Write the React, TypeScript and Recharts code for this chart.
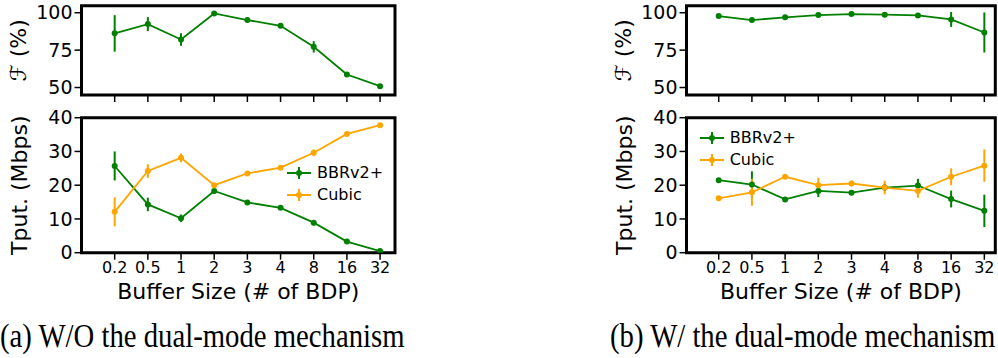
import React from "react";
import { LineChart, Line, XAxis, YAxis, ErrorBar, ReferenceArea, Legend } from "recharts";

// buffer sizes, in # of BDP
const bufferLabels = ["0.2", "0.5", "1", "2", "3", "4", "8", "16", "32"];

// (a) without the dual-mode mechanism
const fairWithout = [86.2, 92.4, 82.1, 99.5, 95.1, 91.3, 77.2, 58.7, 50.9];
const fairWithoutErr = [12.2, 4.7, 4.2, 0.6, 1.0, 1.5, 3.8, 0.6, 0.4];
const bbrWithout = [25.7, 14.3, 10.2, 18.3, 14.9, 13.3, 8.9, 3.3, 0.5];
const bbrWithoutErr = [4.3, 2.0, 1.1, 0.5, 0.5, 0.5, 0.8, 0.4, 0.3];
const cubicWithout = [12.1, 24.2, 28.1, 20.0, 23.5, 25.2, 29.6, 35.2, 37.8];
const cubicWithoutErr = [4.3, 2.0, 1.3, 0.5, 0.5, 0.6, 1.0, 0.5, 0.5];

// (b) with the dual-mode mechanism
const fairWith = [97.8, 95.1, 96.9, 98.4, 99.1, 98.7, 98.2, 95.5, 86.8];
const fairWithErr = [0.5, 1.5, 0.8, 0.5, 0.3, 0.3, 0.4, 5.0, 13.4];
const bbrWith = [21.5, 20.2, 15.8, 18.3, 17.8, 19.3, 19.9, 15.9, 12.4];
const bbrWithErr = [0.5, 3.9, 0.5, 1.8, 0.6, 1.0, 2.0, 2.5, 4.8];
const cubicWith = [16.1, 17.9, 22.5, 20.0, 20.5, 19.3, 18.3, 22.5, 25.8];
const cubicWithErr = [0.4, 4.0, 0.5, 2.2, 0.8, 2.0, 2.0, 2.5, 4.8];

const GREEN = "#008000";
const ORANGE = "#ffa500";
const tickIdx = bufferLabels.map((_, i) => i);

const makeRows = (f: number[], fe: number[], b: number[], be: number[], c: number[], ce: number[]) =>
    bufferLabels.map((label, i) => ({
        x: i, label,
        fair: f[i], fairErr: fe[i],
        bbr: b[i], bbrErr: be[i],
        cubic: c[i], cubicErr: ce[i],
    }));

const rowsA = makeRows(fairWithout, fairWithoutErr, bbrWithout, bbrWithoutErr, cubicWithout, cubicWithoutErr);
const rowsB = makeRows(fairWith, fairWithErr, bbrWith, bbrWithErr, cubicWith, cubicWithErr);

function VTitle(props: any) {
    const { viewBox, text, cx } = props;
    const y = viewBox ? viewBox.y + viewBox.height / 2 : 50;
    return (
        <text x={cx} y={y} transform={`rotate(-90 ${cx} ${y})`} textAnchor="middle"
            dominantBaseline="central" fontSize={22} fill="#000">
            {text}
        </text>
    );
}

function XTitle(props: any) {
    const { viewBox, text, dy } = props;
    const x = viewBox ? viewBox.x + viewBox.width / 2 : 200;
    const y = viewBox ? viewBox.y + dy : 290;
    return (
        <text x={x} y={y} textAnchor="middle" dominantBaseline="central" fontSize={22} fill="#000">
            {text}
        </text>
    );
}

function LegendBox(props: any) {
    const { payload } = props;
    return (
        <div style={{ fontSize: 16, lineHeight: "22px", color: "#000" }}>
            {(payload || []).map((p: any) => (
                <div key={p.value} style={{ display: "flex", alignItems: "center", height: 22 }}>
                    <svg width={24} height={16}>
                        <line x1={0} y1={8} x2={24} y2={8} stroke={p.color} strokeWidth={2} />
                        <line x1={12} y1={2} x2={12} y2={14} stroke={p.color} strokeWidth={2} />
                        <circle cx={12} cy={8} r={3} fill={p.color} />
                    </svg>
                    <span style={{ marginLeft: 6 }}>{p.value}</span>
                </div>
            ))}
        </div>
    );
}

const axisTick = { fill: "#000", fontSize: 19 };
const xTick = { fill: "#000", fontSize: 16 };
const tickLine = { stroke: "#000", strokeWidth: 1.5 };

function FairPanel({ data, width, xMin, xMax }: any) {
    return (
        <LineChart width={width} height={105} data={data}
            margin={{ top: 5.7, right: 3, left: 0, bottom: 0 }}>
            <XAxis dataKey="x" type="number" domain={[xMin, xMax]} ticks={tickIdx} allowDataOverflow
                axisLine={false} tickLine={tickLine} tickSize={7} tickFormatter={() => ""} height={10} />
            <YAxis type="number" domain={[45, 104.7]} ticks={[50, 75, 100]} allowDataOverflow width={81.5}
                axisLine={false} tickLine={tickLine} tickSize={7} tickMargin={2} tick={axisTick}
                label={<VTitle text="ℱ (%)" cx={19} />} />
            <ReferenceArea x1={xMin} x2={xMax} y1={45} y2={104.7} fill="none" stroke="#000" strokeWidth={3} />
            <Line dataKey="fair" stroke={GREEN} strokeWidth={1.8} isAnimationActive={false}
                dot={{ r: 3, fill: GREEN, stroke: GREEN, strokeWidth: 0 }} activeDot={false}>
                <ErrorBar dataKey="fairErr" direction="y" width={0} stroke={GREEN} strokeWidth={2} />
            </Line>
        </LineChart>
    );
}

function TputPanel({ data, width, xMin, xMax, legendLeft, legendTop }: any) {
    return (
        <LineChart width={width} height={210} data={data}
            margin={{ top: 17.7, right: 3, left: 0, bottom: 2.3 }}>
            <XAxis dataKey="x" type="number" domain={[xMin, xMax]} ticks={tickIdx} allowDataOverflow
                axisLine={false} tickLine={tickLine} tickSize={7} tickMargin={2} tick={xTick}
                tickFormatter={(v: number) => bufferLabels[v]} height={55}
                label={<XTitle text="Buffer Size (# of BDP)" dy={39} />} />
            <YAxis type="number" domain={[0, 40]} ticks={[0, 10, 20, 30, 40]} allowDataOverflow width={81.5}
                axisLine={false} tickLine={tickLine} tickSize={7} tickMargin={2} tick={axisTick}
                label={<VTitle text="Tput. (Mbps)" cx={20} />} />
            <ReferenceArea x1={xMin} x2={xMax} y1={0} y2={40} fill="none" stroke="#000" strokeWidth={3} />
            <Line dataKey="bbr" name="BBRv2+" stroke={GREEN} strokeWidth={1.8} isAnimationActive={false}
                dot={{ r: 3, fill: GREEN, stroke: GREEN, strokeWidth: 0 }} activeDot={false}>
                <ErrorBar dataKey="bbrErr" direction="y" width={0} stroke={GREEN} strokeWidth={2} />
            </Line>
            <Line dataKey="cubic" name="Cubic" stroke={ORANGE} strokeWidth={1.8} isAnimationActive={false}
                dot={{ r: 3, fill: ORANGE, stroke: ORANGE, strokeWidth: 0 }} activeDot={false}>
                <ErrorBar dataKey="cubicErr" direction="y" width={0} stroke={ORANGE} strokeWidth={2} />
            </Line>
            <Legend layout="vertical" align="center" verticalAlign="middle" content={<LegendBox />}
                wrapperStyle={{ left: legendLeft, top: legendTop, width: "auto", height: "auto" }} />
        </LineChart>
    );
}

// captions are set in a tall, condensed serif
const captionStyle: React.CSSProperties = {
    position: "absolute", top: 318, fontFamily: "'Liberation Serif', serif", fontSize: 33,
    color: "#000", whiteSpace: "nowrap", lineHeight: "36px",
    transform: "scaleX(0.87)", transformOrigin: "left top",
};

export default function App() {
    return (
        <div style={{ position: "absolute", left: 0, top: 0, width: 998, height: 358, overflow: "hidden",
            background: "#fff", fontFamily: "'DejaVu Sans', sans-serif" }}>
            <div style={{ position: "absolute", left: 0, top: 0 }}>
                <FairPanel data={rowsA} width={398} xMin={-1} xMax={8.45} />
            </div>
            <div style={{ position: "absolute", left: 0, top: 100 }}>
                <TputPanel data={rowsA} width={398} xMin={-1} xMax={8.45} legendLeft={287} legendTop={62} />
            </div>
            <div style={{ position: "absolute", left: 604.7, top: 0 }}>
                <FairPanel data={rowsB} width={393.3} xMin={-0.97} xMax={8.33} />
            </div>
            <div style={{ position: "absolute", left: 604.7, top: 100 }}>
                <TputPanel data={rowsB} width={393.3} xMin={-0.97} xMax={8.33} legendLeft={95} legendTop={26.7} />
            </div>
            <div style={{ ...captionStyle, left: 0 }}>(a) W/O the dual-mode mechanism</div>
            <div style={{ ...captionStyle, left: 610 }}>(b) W/ the dual-mode mechanism</div>
        </div>
    );
}
